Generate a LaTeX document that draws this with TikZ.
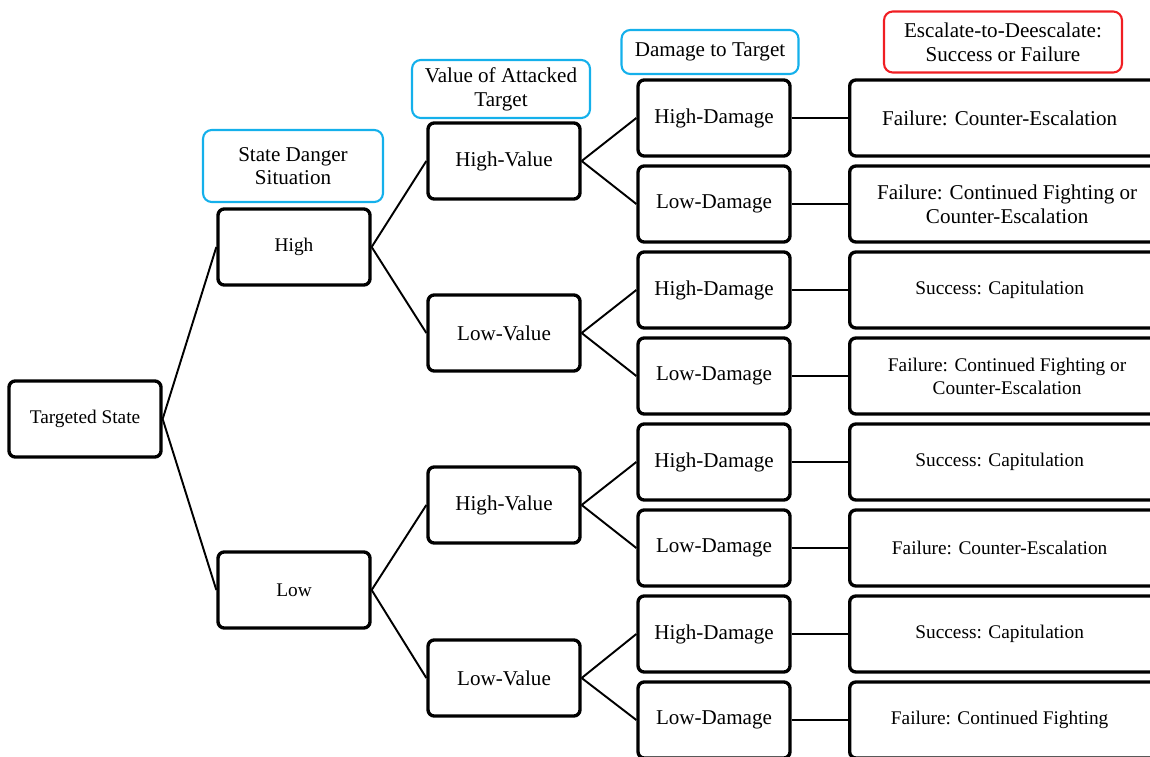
\documentclass[tikz,border=0pt]{standalone}
\usepackage{fontspec}
\setmainfont{Liberation Serif}
\usetikzlibrary{positioning, calc}
\definecolor{hdrblue}{RGB}{20,176,235}
\definecolor{hdrred}{RGB}{240,30,35}

\begin{document}
\begin{tikzpicture}[
    x=0.02cm, y=-0.02cm,
    font=\fontsize{12}{13.5}\selectfont,
    box/.style={draw, line width=1.9pt, rounded corners=3.5pt,
                minimum width=3.04cm, minimum height=1.52cm, align=center},
    outbox/.style={box, minimum width=6.3cm},
    small/.style={font=\fontsize{11}{13}\selectfont},
    hdr/.style={draw=hdrblue, line width=1.2pt, rounded corners=5pt,
                align=center, font=\fontsize{12}{13.5}\selectfont},
    res/.style={hdr, draw=hdrred},
    edge/.style={line width=1.1pt},
]

% === Canvas ===
\clip (0, 0) rectangle (1150, 757);

% === Column headers ===
\node[hdr, minimum width=3.6cm, minimum height=1.44cm] (hdanger) at (293, 166)
     {State Danger\\Situation};
\node[hdr, minimum width=3.56cm, minimum height=1.16cm] (hvalue) at (501, 89)
     {Value of Attacked\\Target};
\node[hdr, minimum width=3.54cm, minimum height=0.88cm] (hdamage) at (710, 52)
     {Damage to Target};
\node[res, minimum width=4.76cm, minimum height=1.22cm] (hresult) at (1003, 42)
     {Escalate-to-Deescalate:\\Success or Failure};

% === Root and danger level ===
\node[box, small] (ts) at (85, 419) {Targeted State};
\node[box, small] (hi) at (294, 247) {High};
\node[box, small] (lo) at (294, 590) {Low};

% === Target value ===
\node[box] (hv1) at (504, 161) {High-Value};
\node[box] (lv1) at (504, 333) {Low-Value};
\node[box] (hv2) at (504, 505) {High-Value};
\node[box] (lv2) at (504, 678) {Low-Value};

% === Damage ===
\node[box] (d1) at (714, 118) {High-Damage};
\node[box] (d2) at (714, 204) {Low-Damage};
\node[box] (d3) at (714, 290) {High-Damage};
\node[box] (d4) at (714, 376) {Low-Damage};
\node[box] (d5) at (714, 462) {High-Damage};
\node[box] (d6) at (714, 548) {Low-Damage};
\node[box] (d7) at (714, 634) {High-Damage};
\node[box] (d8) at (714, 720) {Low-Damage};

% === Outcomes (run off the right edge) ===
\node[outbox, anchor=west] (o1) at (848, 118) {Failure: Counter-Escalation\hspace{0.3cm}};
\node[outbox, anchor=west] (o2) at (848, 204)
     {Failure: Continued Fighting or\\Counter-Escalation\hspace{0.3cm}};
\node[outbox, small, anchor=west] (o3) at (848, 290) {Success: Capitulation\hspace{0.3cm}};
\node[outbox, small, anchor=west] (o4) at (848, 376)
     {Failure: Continued Fighting or\\Counter-Escalation\hspace{0.3cm}};
\node[outbox, small, anchor=west] (o5) at (848, 462) {Success: Capitulation\hspace{0.3cm}};
\node[outbox, small, anchor=west] (o6) at (848, 548) {Failure: Counter-Escalation\hspace{0.3cm}};
\node[outbox, small, anchor=west] (o7) at (848, 634) {Success: Capitulation\hspace{0.3cm}};
\node[outbox, small, anchor=west] (o8) at (848, 720) {Failure: Continued Fighting\hspace{0.3cm}};

% === Edges ===
\draw[edge] (ts.east) -- (hi.west);
\draw[edge] (ts.east) -- (lo.west);
\draw[edge] (hi.east) -- (hv1.west);
\draw[edge] (hi.east) -- (lv1.west);
\draw[edge] (lo.east) -- (hv2.west);
\draw[edge] (lo.east) -- (lv2.west);
\draw[edge] (hv1.east) -- (d1.west);
\draw[edge] (hv1.east) -- (d2.west);
\draw[edge] (lv1.east) -- (d3.west);
\draw[edge] (lv1.east) -- (d4.west);
\draw[edge] (hv2.east) -- (d5.west);
\draw[edge] (hv2.east) -- (d6.west);
\draw[edge] (lv2.east) -- (d7.west);
\draw[edge] (lv2.east) -- (d8.west);
\draw[edge] (d1) -- (o1);
\draw[edge] (d2) -- (o2);
\draw[edge] (d3) -- (o3);
\draw[edge] (d4) -- (o4);
\draw[edge] (d5) -- (o5);
\draw[edge] (d6) -- (o6);
\draw[edge] (d7) -- (o7);
\draw[edge] (d8) -- (o8);

\end{tikzpicture}
\end{document}
